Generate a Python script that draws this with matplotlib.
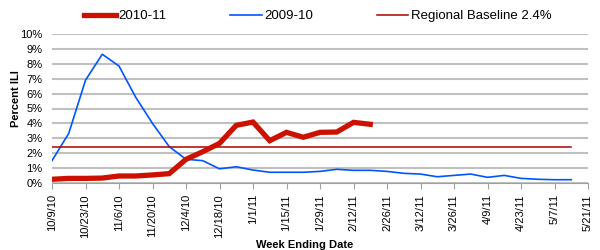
import numpy as np
import matplotlib
matplotlib.use('Agg')
import matplotlib.pyplot as plt

plt.rcParams['font.family'] = ['Liberation Sans', 'DejaVu Sans']

# weekly values (percent ILI), week 0 = 10/9/10
ili_2010 = [0.25, 0.31, 0.31, 0.33, 0.47, 0.47, 0.54, 0.63, 1.59, 2.1,
            2.66, 3.87, 4.09, 2.84, 3.4, 3.07, 3.4, 3.42, 4.07, 3.94]
ili_2009 = [1.5, 3.33, 6.9, 8.64, 7.85, 5.75, 4.0, 2.44, 1.59, 1.5,
            0.95, 1.09, 0.87, 0.72, 0.72, 0.72, 0.78, 0.92, 0.85, 0.85,
            0.78, 0.65, 0.6, 0.42, 0.51, 0.6, 0.38, 0.51, 0.31, 0.25,
            0.22, 0.22]
baseline = 2.4
tick_labels = ['10/9/10', '10/23/10', '11/6/10', '11/20/10', '12/4/10',
               '12/18/10', '1/1/11', '1/15/11', '1/29/11', '2/12/11',
               '2/26/11', '3/12/11', '3/26/11', '4/9/11', '4/23/11',
               '5/7/11', '5/21/11']

fig = plt.figure(figsize=(6, 2.5), dpi=100)
ax = fig.add_axes([52/600, 1-183/250, 536/600, 149/250])

w10 = np.arange(len(ili_2010))
w09 = np.arange(len(ili_2009))

l1, = ax.plot(w10, ili_2010, color='#cc1100', lw=3.8, solid_joinstyle='miter', zorder=4)
l2, = ax.plot(w09, ili_2009, color='#0055ff', lw=1.2, zorder=3)
l3, = ax.plot([0, len(ili_2009) - 1], [baseline, baseline], color='#b00000', lw=1.1, zorder=3)

ax.set_xlim(0, 32)
ax.set_ylim(0, 10)
ax.set_yticks(range(0, 11))
ax.set_yticklabels(['%d%%' % v for v in range(0, 11)], fontsize=8)
ax.set_xticks(range(0, 33, 2))
ax.set_xticklabels(tick_labels, rotation=90, fontsize=8)

ax.grid(axis='y', color='#c0c0c0', lw=1.5)
ax.set_axisbelow(True)
for s in ['top', 'right', 'left']:
    ax.spines[s].set_visible(False)
ax.spines['bottom'].set_color('#a0a0a0')
ax.tick_params(axis='x', direction='out', length=4, color='#a0a0a0', pad=4)
ax.tick_params(axis='y', length=0, pad=7)

ax.set_ylabel('Percent ILI', fontsize=8, fontweight='bold')
ax.yaxis.set_label_coords(-0.058, 0.57)
ax.set_xlabel('Week Ending Date', fontsize=8, fontweight='bold')
ax.xaxis.set_label_coords(0.472, -0.38)

fig.legend([l1, l2, l3], ['2010-11', '2009-10', 'Regional Baseline 2.4%'],
           loc='center', bbox_to_anchor=(0.53, 1-16/250), ncol=3, frameon=False,
           fontsize=9.5, handlelength=2.4, handletextpad=0.2, columnspacing=4.8)

fig.savefig('out.png', dpi=100)
